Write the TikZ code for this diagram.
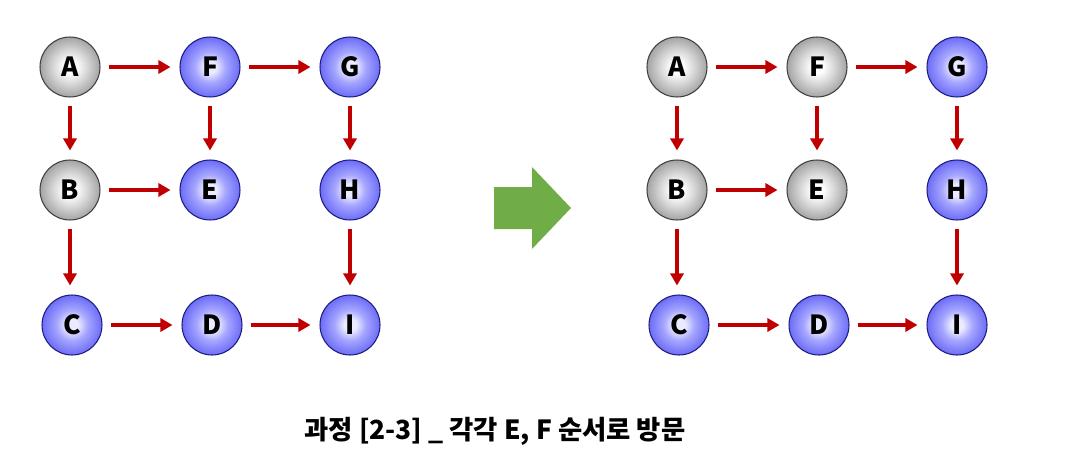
\documentclass[tikz,border=0pt]{standalone}
\usepackage{fontspec}
\setmainfont{Noto Sans CJK KR}
\usetikzlibrary{arrows.meta}
\definecolor{arrred}{HTML}{C00000}
\definecolor{greenarr}{HTML}{70AD47}
\definecolor{graylinec}{HTML}{404040}
\definecolor{bluelinec}{HTML}{1C1C80}
\definecolor{bc0}{RGB}{235,235,255}
\definecolor{bc1}{RGB}{165,165,255}
\definecolor{bc2}{RGB}{95,95,245}
\definecolor{bc3}{RGB}{45,45,210}
\definecolor{gc0}{RGB}{255,255,255}
\definecolor{gc1}{RGB}{220,220,220}
\definecolor{gc2}{RGB}{150,150,150}
\definecolor{gc3}{RGB}{95,95,95}
\pgfdeclareradialshading{grayball}{\pgfpoint{0bp}{0bp}}{color(0bp)=(gc0); color(5bp)=(gc0); color(13bp)=(gc1); color(28bp)=(gc2); color(50bp)=(gc3)}
\pgfdeclareradialshading{blueball}{\pgfpoint{0bp}{0bp}}{color(0bp)=(bc0); color(5bp)=(bc0); color(13bp)=(bc1); color(28bp)=(bc2); color(50bp)=(bc3)}
\tikzset{
  ball/.style={circle, minimum size=1.2cm, inner sep=0pt, font=\bfseries\fontsize{15}{15}\selectfont},
  grayn/.style={ball, shading=grayball, draw=graylinec, line width=0.6pt},
  bluen/.style={ball, shading=blueball, draw=bluelinec, line width=0.6pt},
  link/.style={arrred, line width=1.8pt, -{Triangle[length=0.24cm,width=0.26cm]}, shorten <=0.16cm, shorten >=0.18cm},
}
\begin{document}
\begin{tikzpicture}[x=0.02cm,y=-0.02cm]
\useasboundingbox (0,0) rectangle (1065,470);
% left graph
\node[grayn] (lA) at (70,67) {A};
\node[bluen] (lF) at (210,67) {F};
\node[bluen] (lG) at (350,67) {G};
\node[grayn] (lB) at (70,190) {B};
\node[bluen] (lE) at (210,190) {E};
\node[bluen] (lH) at (350,190) {H};
\node[bluen] (lC) at (72,325) {C};
\node[bluen] (lD) at (212,325) {D};
\node[bluen] (lI) at (350,325) {I};
\draw[link] (lA) -- (lF);
\draw[link] (lF) -- (lG);
\draw[link] (lA) -- (lB);
\draw[link] (lF) -- (lE);
\draw[link] (lG) -- (lH);
\draw[link] (lB) -- (lE);
\draw[link] (lB.south) -- (lB.south |- lC.north);
\draw[link] (lH) -- (lI);
\draw[link] (lC) -- (lD);
\draw[link] (lD) -- (lI);
% right graph
\node[grayn] (rA) at (677,67) {A};
\node[grayn] (rF) at (817,67) {F};
\node[bluen] (rG) at (957,67) {G};
\node[grayn] (rB) at (677,190) {B};
\node[grayn] (rE) at (817,190) {E};
\node[bluen] (rH) at (957,190) {H};
\node[bluen] (rC) at (679,325) {C};
\node[bluen] (rD) at (819,325) {D};
\node[bluen] (rI) at (957,325) {I};
\draw[link] (rA) -- (rF);
\draw[link] (rF) -- (rG);
\draw[link] (rA) -- (rB);
\draw[link] (rF) -- (rE);
\draw[link] (rG) -- (rH);
\draw[link] (rB) -- (rE);
\draw[link] (rB.south) -- (rB.south |- rC.north);
\draw[link] (rH) -- (rI);
\draw[link] (rC) -- (rD);
\draw[link] (rD) -- (rI);
% big green arrow
\fill[greenarr] (494,187) -- (532,187) -- (532,167) -- (571,208) -- (532,249) -- (532,229) -- (494,229) -- cycle;
% caption
\node[font=\bfseries\fontsize{15}{15}\selectfont] (cap) at (495,431) {과정 [2-3] \_ 각각 E, F 순서로 방문};
\end{tikzpicture}
\end{document}
